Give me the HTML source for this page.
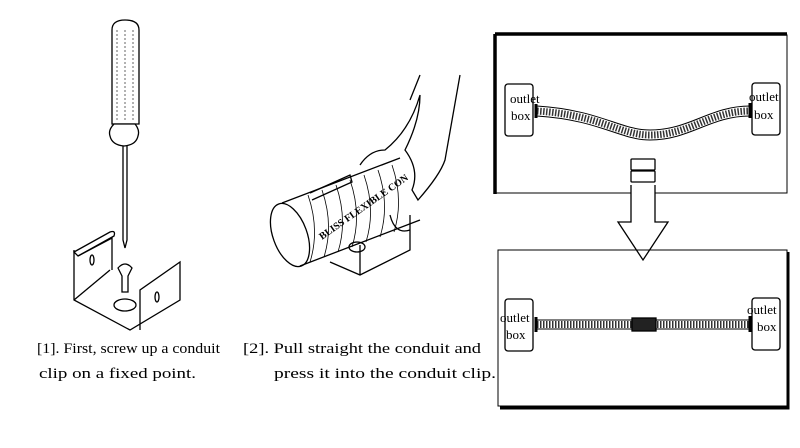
<!DOCTYPE html>
<html><head><meta charset="utf-8"><style>
html,body{margin:0;padding:0;background:#fff;}
svg{display:block}
</style></head><body>
<svg width="800" height="448" viewBox="0 0 800 448" xmlns="http://www.w3.org/2000/svg" font-family="'Liberation Serif', serif">
<g fill="none" stroke="#000" stroke-width="1.3">
<!-- screwdriver -->
<path d="M112,30 Q112,20 125,20 Q139,20 139,30 L139,124 L112,124 Z" fill="#fff"/>
<path d="M117,30 L117,122 M125,30 L125,122 M133,30 L133,122" stroke-width="0.6" stroke-dasharray="2,2"/>
<path d="M114,124 Q108,130 110,136 Q112,145 124,146 Q136,145 138,136 Q140,130 135,124 Z" fill="#fff"/>
<path d="M123,146 L123,240 L125,248 L127,240 L127,146"/>
<!-- clip -->
<path d="M74,252 L110,232 Q116,230 114,236 L78,256 Z"/>
<path d="M74,250 L74,300 L130,330 L180,300 L180,262 L140,290 L140,330"/>
<path d="M78,256 L112,238 L112,270"/>
<path d="M74,300 L110,270"/>
<ellipse cx="92" cy="260" rx="2" ry="5"/><ellipse cx="157" cy="297" rx="2" ry="5"/>
<path d="M118,268 Q125,260 132,268 L128,276 L128,292 L122,292 L122,276 Z" fill="#fff"/>
<ellipse cx="125" cy="305" rx="11" ry="6"/>
<!-- conduit & hand -->
<ellipse cx="290" cy="235" rx="17" ry="33" transform="rotate(-20 290 235)" fill="#fff"/>
<path d="M282,203 L400,158 M300,266 L420,220"/>
<path d="M308,195 Q320,230 310,262 M322,190 Q334,225 324,257 M336,185 Q348,220 338,252 M350,180 Q362,215 352,247 M364,175 Q376,210 366,242 M378,170 Q390,205 380,237 M392,165 Q404,200 394,232" stroke-width="0.8"/>
<path d="M310,193 L350,175 L352,182 L312,200"/>
<path d="M330,262 L360,275 L410,250 L410,215 M360,275 L360,245"/>
<ellipse cx="357" cy="247" rx="8" ry="5"/>
<path d="M360,165 Q370,150 385,150 Q410,130 420,95 Q420,120 405,150 Q420,170 412,190 L418,200 Q440,175 445,160 L460,75 M420,75 L410,100 M390,215 Q395,235 410,230"/>
<!-- right top panel -->
<path d="M494,35 L787,35 L787,193 L495,193" stroke-width="1"/>
<path d="M495,34 L787,34 M495,34 L495,194" stroke-width="3.5"/>
<rect x="505" y="84" width="28" height="52" rx="3"/>
<rect x="752" y="83" width="28" height="52" rx="3"/>
<path d="M537,106 C600,110 620,130 650,130 C690,130 710,106 750,106 M537,116 C600,120 620,140 650,140 C690,140 710,116 750,116" stroke-width="1"/>
<path d="M537,111 C600,115 620,135 650,135 C690,135 710,111 750,111" stroke-width="7" stroke-dasharray="1.5,1.5" opacity="0.8"/>
<path d="M536,104 L536,118 M750,103 L750,118" stroke-width="3"/>
<!-- arrow -->
<rect x="631" y="159" width="24" height="11" rx="1"/>
<rect x="631" y="171" width="24" height="11" rx="1"/>
<path d="M631,185 L631,222 L618,222 L643,260 L668,222 L655,222 L655,185" fill="#fff"/>
<!-- bottom panel -->
<path d="M498,250 L787,250 L787,406 L498,406 Z" stroke-width="1"/>
<path d="M788,252 L788,408 L500,408" stroke-width="3"/>
<rect x="505" y="299" width="28" height="52" rx="3"/>
<rect x="752" y="298" width="28" height="52" rx="3"/>
<rect x="537" y="320" width="213" height="9" stroke-width="1"/>
<path d="M537,324.5 L750,324.5" stroke-width="7" stroke-dasharray="1.5,1.5" opacity="0.8"/>
<rect x="632" y="318" width="24" height="13" fill="#222"/>
<path d="M536,317 L536,332 M750,316 L750,332" stroke-width="3"/>
</g>
<g font-size="13" fill="#000">
<text x="510" y="103">outlet</text><text x="511" y="120">box</text>
<text x="749" y="101">outlet</text><text x="754" y="119">box</text>
<text x="500" y="322">outlet</text><text x="506" y="339">box</text>
<text x="747" y="314">outlet</text><text x="757" y="331">box</text>
</g>
<text x="322" y="240" font-size="10" font-weight="bold" transform="rotate(-35 322 240)">BLISS FLEXIBLE CON</text>
<g font-size="15" fill="#000" font-family="'Liberation Serif','Noto Serif CJK SC',serif">
<text x="37" y="353" textLength="183" lengthAdjust="spacingAndGlyphs">[1]. First, screw up a conduit</text>
<text x="39" y="378" textLength="157" lengthAdjust="spacingAndGlyphs">clip on a fixed point.</text>
<text x="243" y="353" textLength="238" lengthAdjust="spacingAndGlyphs">[2]. Pull straight the conduit and</text>
<text x="274" y="378" textLength="222" lengthAdjust="spacingAndGlyphs">press it into the conduit clip.</text>
</g>
</svg>
</body></html>
